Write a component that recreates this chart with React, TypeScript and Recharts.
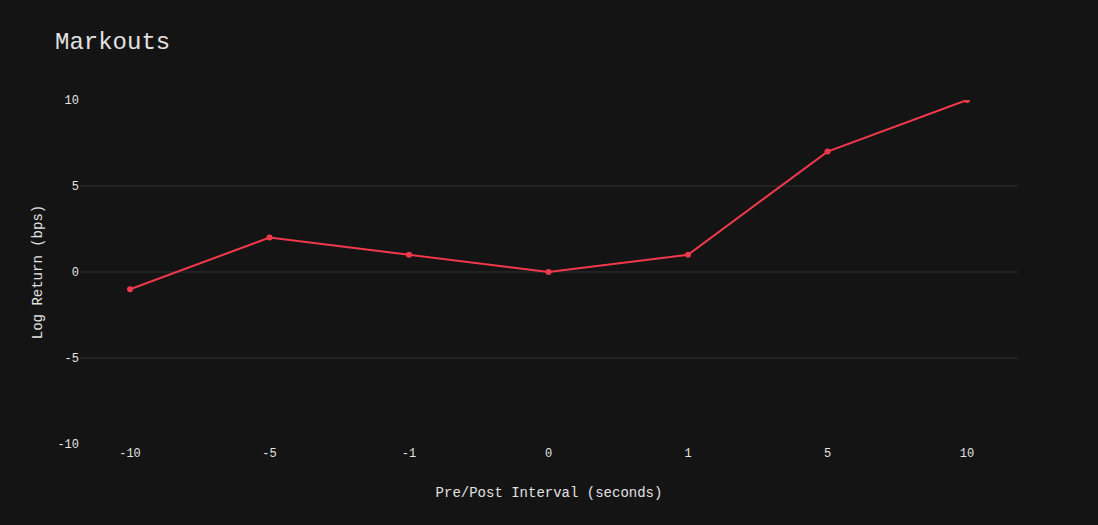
import React from "react"
import { LineChart, Line, XAxis, YAxis, CartesianGrid, Label } from "recharts"

// Markout intervals (seconds) and log return (bps)
const intervals = ["-10", "-5", "-1", "0", "1", "5", "10"]
const logReturns = [-1, 2, 1, 0, 1, 7, 10]
const yTicks = [-10, -5, 0, 5, 10]
const gridValues = [-5, 0, 5]

const data = intervals.map((interval, i) => ({ interval, value: logReturns[i] }))

const MONO = "'Liberation Mono', 'DejaVu Sans Mono', monospace"
const TEXT = "#e2e2e2"

export default function App() {
  return (
    <div
      style={{
        position: "absolute",
        left: 0,
        top: 0,
        width: 1098,
        height: 525,
        background: "#141414",
        fontFamily: MONO,
      }}
    >
      <div
        style={{
          position: "absolute",
          left: 55,
          top: 28,
          fontSize: 24,
          color: TEXT,
          fontFamily: MONO,
          lineHeight: "30px",
        }}
      >
        Markouts
      </div>
      <LineChart
        width={1098}
        height={525}
        data={data}
        margin={{ top: 100, right: 80, bottom: 0, left: 20 }}
      >
        <CartesianGrid
          vertical={false}
          horizontalValues={gridValues}
          stroke="#303030"
          strokeWidth={1}
        />
        <XAxis
          dataKey="interval"
          type="category"
          padding={{ left: 50, right: 51 }}
          axisLine={false}
          tickLine={false}
          tickSize={0}
          tickMargin={4}
          height={81}
          tick={{ fill: TEXT, fontSize: 12, fontFamily: MONO }}
        >
          <Label
            value="Pre/Post Interval (seconds)"
            position="insideBottom"
            offset={28}
            fill={TEXT}
            fontSize={14}
            fontFamily={MONO}
          />
        </XAxis>
        <YAxis
          type="number"
          domain={[-10, 10]}
          ticks={yTicks}
          allowDataOverflow
          axisLine={false}
          tickLine={false}
          tickSize={0}
          tickMargin={1}
          width={60}
          tick={{ fill: TEXT, fontSize: 12, fontFamily: MONO }}
        >
          <Label
            value="Log Return (bps)"
            angle={-90}
            position="insideLeft"
            offset={17}
            fill={TEXT}
            fontSize={14}
            fontFamily={MONO}
            style={{ textAnchor: "middle" }}
          />
        </YAxis>
        <Line
          type="linear"
          dataKey="value"
          stroke="#f2394c"
          strokeWidth={2}
          dot={{ r: 3, fill: "#f2394c", stroke: "#f2394c", strokeWidth: 0 }}
          activeDot={false}
          isAnimationActive={false}
        />
      </LineChart>
    </div>
  )
}
